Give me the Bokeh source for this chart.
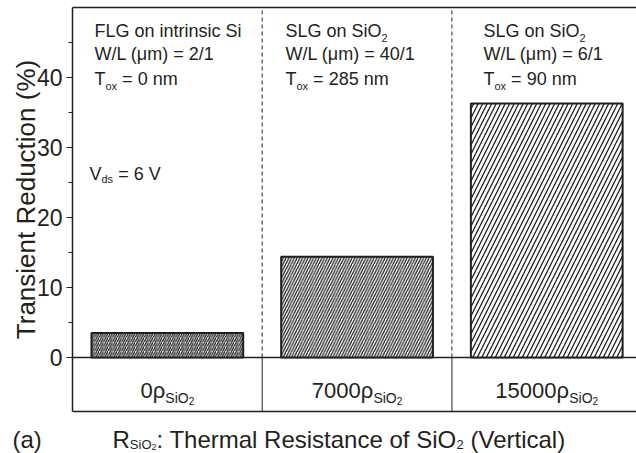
import math
from bokeh.plotting import figure
from bokeh.models import Range1d, FixedTicker, Label, ColumnDataSource
from bokeh.embed import file_html
from bokeh.resources import INLINE

# ---------------- data ----------------
rho_multiple = ["0", "7000", "15000"]          # R_SiO2 in units of rho_SiO2
reduction = [3.5, 14.4, 36.3]                    # transient reduction (%)
device = ["FLG on intrinsic Si", "SLG on SiO", "SLG on SiO"]
device_sub = ["", "2", "2"]
wl_ratio = ["2/1", "40/1", "6/1"]                # W/L (um)
tox_nm = ["0", "285", "90"]                      # oxide thickness (nm)
vds_volt = "6"
y_ticks = [0, 10, 20, 30, 40]
y_minor = [5, 15, 25, 35, 45]
y_title = "Transient Reduction (%)"
panel_tag = "(a)"

# ---------------- layout / style ----------------
W, H = 636, 453
FL, FT, FR, FB = 72, 7, 636, 411     # visible box of the chart (px)
CAT_PX = 189.7
PXY = 7.0
XMIN = -0.5
XMAX = XMIN + (FR - FL) / CAT_PX
YMAX = 50
YMIN = YMAX - (FB - FT) / PXY
# full-canvas data window
XLO = XMIN - FL / CAT_PX
XHI = XMIN + (W - FL) / CAT_PX
YHI = YMAX + FT / PXY
YLO = YMAX - (H - FT) / PXY
INK = "#231f20"
FONT = "Liberation Sans"
hatch_scales = [4.5, 5.5, 9.0]

AW = {' ': 278, '(': 333, ')': 333, '/': 278, '=': 584, ':': 278, '%': 889,
      'F': 611, 'L': 556, 'G': 778, 'S': 667, 'W': 944, 'T': 611, 'V': 667,
      'R': 722, 'O': 778, 'a': 556, 'c': 500, 'd': 556, 'e': 556, 'f': 278,
      'h': 556, 'i': 222, 'l': 222, 'm': 833, 'n': 556, 'o': 556, 'r': 333,
      's': 500, 't': 278, 'u': 556, 'x': 500, 'μ': 576, 'ρ': 577}


def tw(s, size):
    return sum(AW.get(c, 556) for c in s) * size / 1000.0


def px2x(px):
    return XMIN + (px - FL) / CAT_PX


def x2px(x):
    return FL + (x - XMIN) * CAT_PX


def py2y(py):
    return YMAX - (py - FT) / PXY


p = figure(width=W, height=H, output_backend="svg", toolbar_location=None,
           x_range=Range1d(XLO, XHI), y_range=Range1d(YLO, YHI),
           x_axis_location=None, min_border=0)
p.outline_line_color = None
p.xgrid.visible = False
p.ygrid.visible = False
p.background_fill_color = "white"
p.border_fill_color = "white"

ax = p.yaxis[0]
ax.fixed_location = XMIN
ax.bounds = (YMIN, YMAX)
ax.ticker = FixedTicker(ticks=y_ticks, minor_ticks=y_minor)
ax.axis_line_color = INK
ax.axis_line_width = 1.5
ax.major_tick_line_color = INK
ax.major_tick_line_width = 1.2
ax.minor_tick_line_color = INK
ax.minor_tick_line_width = 1.2
ax.major_tick_out = 6
ax.major_tick_in = 0
ax.minor_tick_out = 4
ax.minor_tick_in = 0
ax.major_label_text_font = FONT
ax.major_label_text_font_size = "23px"
ax.major_label_text_color = INK
ax.major_label_standoff = 4

n = len(reduction)

# box lines (top, bottom, zero line)
p.segment(x0=[XMIN] * 3, x1=[XMAX] * 3, y0=[YMAX, YMIN, 0], y1=[YMAX, YMIN, 0],
          line_color=INK, line_width=1.5)

# category dividers
bounds = [i + 0.5 for i in range(n - 1)]
p.segment(x0=bounds, y0=[0] * len(bounds), x1=bounds, y1=[YMAX] * len(bounds),
          line_color=INK, line_width=1, line_dash="4 3")
p.segment(x0=bounds, y0=[YMIN] * len(bounds), x1=bounds, y1=[0] * len(bounds),
          line_color=INK, line_width=1)

# bars
src = ColumnDataSource(dict(x=list(range(n)), top=reduction, hs=hatch_scales))
p.vbar(x="x", top="top", bottom=0, width=0.8, source=src,
       fill_color="white", line_color=INK, line_width=2,
       hatch_pattern="/", hatch_scale="hs", hatch_weight=1.3, hatch_color=INK)


def rich(runs, x_px, base_px, align="left"):
    total = sum(tw(t, s) for t, s, dy in runs)
    if align == "center":
        x_px -= total / 2.0
    for t, s, dy in runs:
        lead = len(t) - len(t.lstrip())
        txt = t.strip()
        if txt:
            p.add_layout(Label(x=px2x(x_px + tw(t[:lead], s)), y=py2y(base_px + dy),
                               text=txt, text_font=FONT, text_font_size=f"{s}px",
                               text_color=INK, text_baseline="alphabetic",
                               text_align="left"))
        x_px += tw(t, s)


# in-plot annotations
col_x = [94, 285, 483]
for i in range(n):
    runs1 = [(device[i], 18, 0)]
    if device_sub[i]:
        runs1.append((device_sub[i], 11, 7))
    rich(runs1, col_x[i], 30.7)
    rich([("W/L (μm) = " + wl_ratio[i], 18, 0)], col_x[i], 53.5)
    rich([("T", 18, 0), ("ox", 11, 7.5), (" = " + tox_nm[i] + " nm", 18, 0)], col_x[i], 78)
rich([("V", 18, 0), ("ds", 11, 5), (" = " + vds_volt + " V", 18, 0)], 89, 173)

# category labels
for i in range(n):
    rich([(rho_multiple[i] + "ρ", 22, 0), ("SiO", 14, 7), ("2", 10, 10)], x2px(i), 390,
         align="center")

# axis titles
p.add_layout(Label(x=px2x(25), y=py2y(199), angle=math.pi / 2,
                   text=y_title, text_font=FONT,
                   text_font_size="26px", text_color=INK,
                   text_align="center", text_baseline="alphabetic"))
rich([(panel_tag, 24, 0)], 12, 439)
rich([("R", 24, 0), ("SiO", 13, 5), ("2", 9, 7.5),
      (": Thermal Resistance of SiO", 24, 0), ("2", 13, 5), (" (Vertical)", 24, 0)],
     112, 439)

open("out.html", "w").write(file_html(p, INLINE))
